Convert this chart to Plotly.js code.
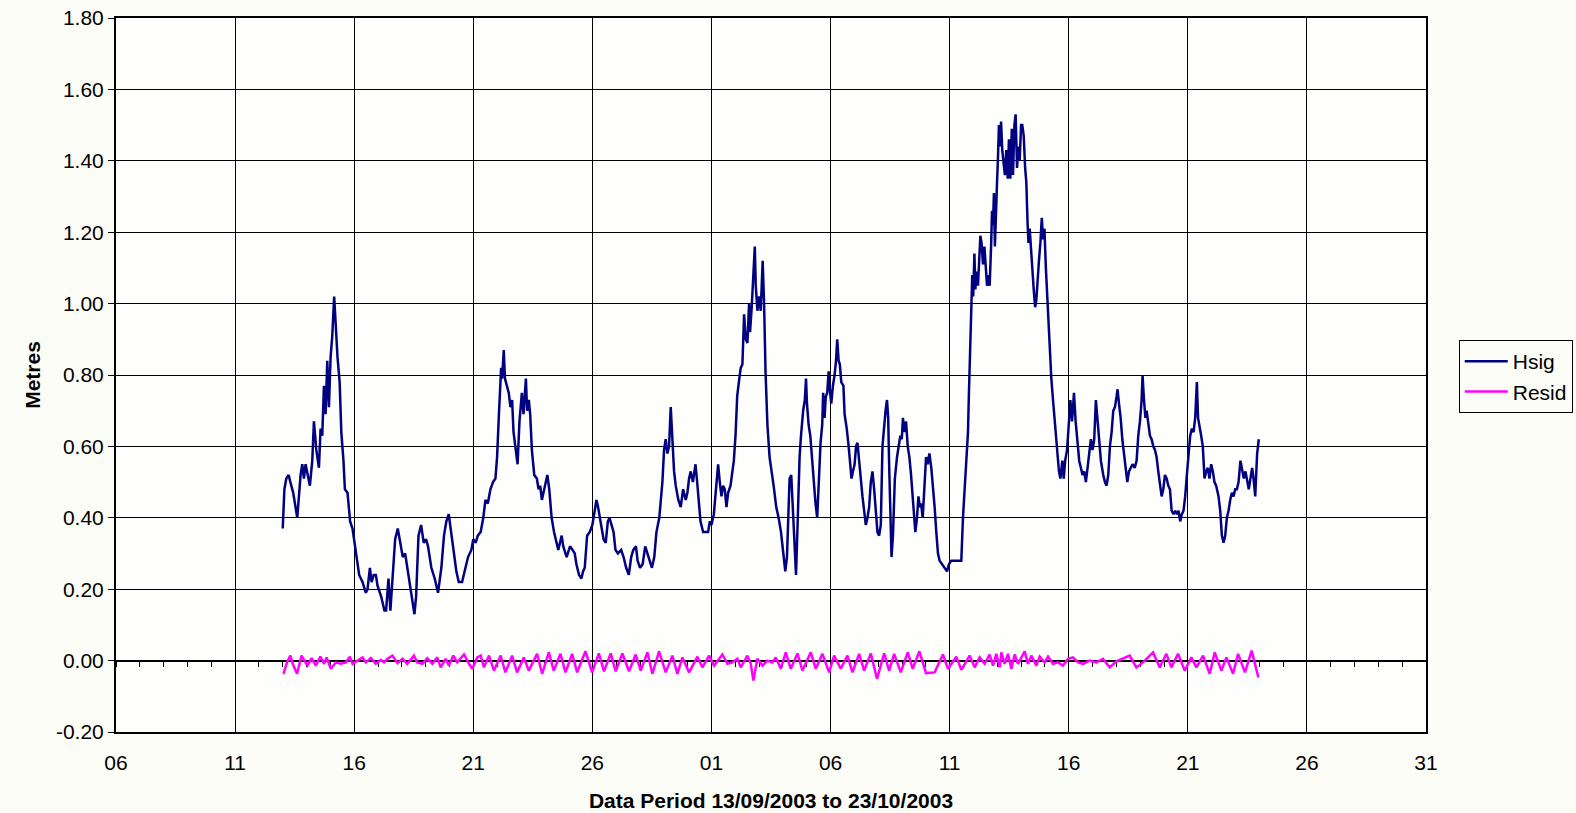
<!DOCTYPE html>
<html>
<head>
<meta charset="utf-8">
<script src="https://cdn.plot.ly/plotly-3.0.1.min.js"></script>
<style>
  html, body { margin: 0; padding: 0; background: #fdfdf8; }
  #chart { width: 1576px; height: 813px; }
</style>
</head>
<body>
<div id="chart"></div>
<script>
// Sample times are given as day-of-September 2003 (31 = 1 October), values in metres.
const hsigDay = [
  13.00,13.07,13.15,13.25,13.32,13.44,13.61,13.75,13.82,13.89,13.96,14.06,14.14,14.24,14.31,14.41,14.52,14.59,14.66,14.73,
  14.80,14.87,14.94,15.01,15.08,15.16,15.23,15.30,15.39,15.46,15.55,15.61,15.72,15.83,15.93,16.00,16.11,16.21,16.35,16.49,
  16.56,16.66,16.73,16.82,16.91,16.98,17.13,17.27,17.34,17.44,17.52,17.62,17.72,17.83,17.94,18.04,18.14,18.25,18.39,18.53,
  18.60,18.70,18.81,18.92,19.02,19.10,19.24,19.38,19.52,19.66,19.77,19.87,19.97,20.08,20.19,20.29,20.39,20.53,20.64,20.78,
  20.92,21.00,21.10,21.19,21.31,21.42,21.51,21.61,21.72,21.83,21.93,22.00,22.07,22.17,22.21,22.28,22.33,22.42,22.49,22.56,
  22.63,22.69,22.76,22.86,22.94,23.04,23.11,23.21,23.26,23.33,23.39,23.46,23.56,23.67,23.74,23.81,23.88,23.94,24.01,24.11,
  24.19,24.29,24.39,24.50,24.57,24.71,24.78,24.92,25.06,25.17,25.26,25.33,25.44,25.54,25.61,25.68,25.78,25.89,26.00,26.10,
  26.17,26.24,26.31,26.38,26.47,26.56,26.65,26.72,26.79,26.89,26.97,27.07,27.21,27.31,27.42,27.53,27.63,27.72,27.83,27.90,
  28.00,28.11,28.22,28.32,28.42,28.50,28.60,28.69,28.81,28.88,28.94,29.01,29.08,29.15,29.22,29.29,29.36,29.43,29.50,29.61,
  29.71,29.81,29.92,29.99,30.06,30.13,30.22,30.33,30.40,30.47,30.54,30.65,30.76,30.86,30.93,31.00,31.10,31.18,31.28,31.35,
  31.42,31.49,31.56,31.63,31.70,31.80,31.87,31.94,32.01,32.08,32.15,32.23,32.30,32.37,32.44,32.51,32.58,32.62,32.69,32.76,
  32.82,32.86,32.93,33.00,33.07,33.15,33.21,33.27,33.35,33.44,33.54,33.61,33.72,33.82,33.92,34.00,34.10,34.17,34.24,34.28,
  34.35,34.42,34.49,34.55,34.62,34.70,34.76,34.85,34.92,34.97,35.01,35.08,35.15,35.23,35.30,35.37,35.44,35.51,35.58,35.65,
  35.69,35.75,35.80,35.86,35.92,35.97,36.03,36.10,36.17,36.23,36.28,36.34,36.39,36.45,36.54,36.59,36.68,36.76,36.82,36.88,
  36.94,37.01,37.07,37.13,37.20,37.27,37.34,37.41,37.48,37.55,37.62,37.69,37.76,37.83,37.90,37.97,38.04,38.11,38.18,38.25,
  38.31,38.37,38.42,38.46,38.51,38.56,38.62,38.70,38.79,38.87,38.93,38.99,39.04,39.10,39.17,39.24,39.31,39.38,39.45,39.52,
  39.56,39.63,39.69,39.75,39.80,39.87,39.94,40.01,40.08,40.15,40.23,40.30,40.37,40.44,40.51,40.58,40.68,40.79,40.89,40.97,
  41.07,41.21,41.35,41.49,41.56,41.63,41.70,41.77,41.81,41.87,41.91,41.95,41.99,42.04,42.08,42.13,42.19,42.23,42.29,42.34,
  42.40,42.46,42.52,42.57,42.62,42.68,42.74,42.78,42.82,42.86,42.90,42.95,42.99,43.03,43.07,43.11,43.16,43.21,43.27,43.32,
  43.38,43.44,43.49,43.55,43.61,43.66,43.72,43.77,43.83,43.89,43.94,44.00,44.05,44.11,44.17,44.22,44.27,44.31,44.36,44.42,
  44.47,44.53,44.59,44.64,44.70,44.75,44.81,44.87,44.92,44.98,45.04,45.09,45.15,45.20,45.27,45.34,45.41,45.48,45.59,45.65,
  45.73,45.79,45.85,45.93,46.00,46.07,46.14,46.22,46.29,46.37,46.44,46.51,46.58,46.65,46.72,46.79,46.86,46.93,47.00,47.07,
  47.14,47.21,47.28,47.35,47.45,47.52,47.59,47.66,47.73,47.80,47.87,47.94,48.01,48.05,48.11,48.18,48.25,48.32,48.39,48.46,
  48.53,48.60,48.68,48.77,48.85,48.92,48.99,49.06,49.10,49.16,49.22,49.27,49.34,49.41,49.48,49.55,49.62,49.69,49.76,49.83,
  49.90,49.97,50.04,50.11,50.18,50.25,50.32,50.40,50.47,50.54,50.61,50.68,50.75,50.82,50.89,50.96,51.03,51.10,51.17,51.24,
  51.31,51.38,51.43,51.49,51.56,51.63,51.70,51.77,51.84,51.91,51.98,52.05,52.12,52.19,52.29,52.36,52.43,52.50,52.57,52.64,
  52.71,52.78,52.85,52.92,52.99,53.06,53.13,53.21,53.28,53.35,53.42,53.49,53.56,53.63,53.70,53.76,53.83,53.91,53.98
];
const hsigM = [
  0.37,0.48,0.51,0.52,0.50,0.47,0.40,0.52,0.55,0.51,0.55,0.51,0.49,0.56,0.67,0.59,0.54,0.65,0.63,0.77,
  0.69,0.84,0.71,0.85,0.91,1.02,0.93,0.85,0.78,0.64,0.56,0.48,0.47,0.39,0.37,0.34,0.28,0.24,0.22,0.19,
  0.20,0.26,0.22,0.24,0.24,0.21,0.18,0.14,0.14,0.23,0.14,0.25,0.34,0.37,0.33,0.29,0.30,0.25,0.20,0.13,
  0.18,0.35,0.38,0.33,0.34,0.32,0.26,0.23,0.19,0.26,0.35,0.39,0.41,0.36,0.30,0.25,0.22,0.22,0.25,0.29,
  0.31,0.34,0.33,0.35,0.36,0.40,0.45,0.44,0.48,0.50,0.51,0.57,0.68,0.82,0.79,0.87,0.79,0.77,0.75,0.71,
  0.73,0.64,0.60,0.55,0.67,0.75,0.69,0.79,0.70,0.73,0.69,0.59,0.52,0.51,0.48,0.49,0.45,0.47,0.49,0.52,
  0.48,0.40,0.36,0.33,0.31,0.35,0.32,0.29,0.32,0.31,0.30,0.27,0.24,0.23,0.25,0.26,0.35,0.36,0.38,0.42,
  0.45,0.43,0.40,0.37,0.34,0.33,0.39,0.40,0.38,0.36,0.31,0.30,0.31,0.29,0.26,0.24,0.29,0.31,0.32,0.28,
  0.26,0.27,0.32,0.30,0.28,0.26,0.29,0.36,0.40,0.45,0.50,0.59,0.62,0.58,0.60,0.71,0.61,0.53,0.49,0.45,
  0.43,0.48,0.45,0.47,0.51,0.53,0.50,0.55,0.50,0.44,0.39,0.36,0.36,0.36,0.39,0.38,0.41,0.47,0.55,0.50,
  0.46,0.49,0.48,0.43,0.47,0.49,0.53,0.56,0.63,0.74,0.78,0.82,0.83,0.97,0.90,0.89,1.00,0.92,0.99,1.11,
  1.16,1.05,0.98,1.02,0.98,1.12,1.00,0.81,0.66,0.57,0.53,0.49,0.43,0.40,0.36,0.31,0.25,0.29,0.46,0.51,
  0.52,0.41,0.29,0.24,0.39,0.57,0.63,0.70,0.73,0.79,0.72,0.66,0.63,0.55,0.48,0.44,0.40,0.50,0.61,0.66,
  0.75,0.68,0.74,0.75,0.81,0.76,0.72,0.77,0.80,0.84,0.90,0.84,0.83,0.78,0.77,0.69,0.65,0.60,0.56,0.51,
  0.53,0.55,0.60,0.61,0.56,0.50,0.46,0.42,0.38,0.40,0.43,0.50,0.53,0.48,0.43,0.36,0.35,0.38,0.60,0.67,
  0.70,0.73,0.68,0.55,0.37,0.29,0.35,0.51,0.57,0.61,0.63,0.62,0.68,0.64,0.67,0.60,0.57,0.52,0.46,0.39,
  0.36,0.40,0.46,0.43,0.44,0.40,0.49,0.57,0.55,0.58,0.54,0.49,0.43,0.36,0.30,0.28,0.27,0.26,0.25,0.27,
  0.28,0.28,0.28,0.28,0.40,0.49,0.59,0.64,0.75,0.87,0.96,1.08,1.02,1.14,1.04,1.09,1.05,1.10,1.19,1.17,
  1.11,1.16,1.08,1.05,1.08,1.05,1.16,1.26,1.22,1.31,1.16,1.31,1.34,1.41,1.50,1.44,1.51,1.43,1.39,1.36,
  1.43,1.35,1.46,1.35,1.49,1.36,1.50,1.53,1.38,1.44,1.40,1.50,1.50,1.47,1.38,1.34,1.23,1.17,1.21,1.16,
  1.10,1.04,0.99,1.01,1.08,1.12,1.17,1.24,1.18,1.21,1.10,1.03,0.97,0.87,0.79,0.73,0.67,0.61,0.53,0.51,
  0.56,0.51,0.56,0.59,0.65,0.73,0.67,0.75,0.67,0.61,0.56,0.54,0.52,0.53,0.50,0.54,0.59,0.62,0.59,0.62,
  0.73,0.68,0.61,0.56,0.52,0.50,0.49,0.52,0.60,0.64,0.70,0.71,0.74,0.76,0.72,0.68,0.62,0.58,0.54,0.50,
  0.53,0.54,0.55,0.54,0.56,0.63,0.67,0.73,0.80,0.73,0.68,0.70,0.66,0.63,0.62,0.60,0.59,0.57,0.53,0.50,
  0.46,0.48,0.52,0.51,0.49,0.48,0.42,0.41,0.42,0.41,0.42,0.39,0.41,0.42,0.46,0.52,0.59,0.63,0.65,0.64,
  0.68,0.78,0.68,0.66,0.63,0.60,0.51,0.53,0.54,0.51,0.55,0.53,0.50,0.49,0.46,0.42,0.35,0.33,0.35,0.40,
  0.42,0.45,0.47,0.46,0.48,0.48,0.50,0.56,0.53,0.51,0.53,0.50,0.48,0.51,0.54,0.51,0.46,0.58,0.62
];

const residDay = [
  13.03,13.18,13.32,13.42,13.60,13.79,13.91,14.04,14.21,14.39,14.58,14.74,14.84,15.02,15.23,15.44,15.65,15.82,15.93,16.14,
  16.35,16.49,16.70,16.91,17.12,17.26,17.40,17.61,17.82,18.03,18.23,18.51,18.65,18.86,19.07,19.28,19.49,19.63,19.84,19.98,
  20.16,20.33,20.61,20.82,20.96,21.17,21.31,21.45,21.66,21.87,22.15,22.35,22.63,22.84,23.12,23.33,23.68,23.89,24.17,24.38,
  24.66,24.87,25.15,25.36,25.71,25.99,26.27,26.49,26.77,26.98,27.26,27.54,27.82,28.03,28.31,28.52,28.80,29.08,29.36,29.57,
  29.78,30.06,30.41,30.62,30.90,31.11,31.46,31.67,31.88,32.09,32.23,32.51,32.65,32.76,32.93,33.14,33.35,33.56,33.70,33.91,
  34.12,34.33,34.61,34.82,35.17,35.38,35.66,35.94,36.15,36.43,36.71,36.92,37.20,37.41,37.69,37.95,38.25,38.46,38.67,38.95,
  39.24,39.45,39.73,40.01,40.37,40.72,40.93,41.28,41.49,41.84,42.05,42.26,42.47,42.68,42.82,42.96,43.10,43.17,43.31,43.45,
  43.59,43.73,43.87,44.15,44.29,44.43,44.64,44.78,44.99,45.13,45.34,45.55,45.76,45.97,46.18,46.39,46.60,46.88,47.16,47.44,
  47.72,48.00,48.28,48.56,48.84,49.12,49.54,49.82,50.10,50.31,50.59,50.87,51.15,51.36,51.64,51.92,52.13,52.41,52.62,52.90,
  53.11,53.40,53.68,53.96
];
const residM = [
  -0.037,-0.005,0.014,-0.009,-0.037,0.014,0.000,-0.014,0.007,-0.014,0.011,-0.009,0.009,-0.023,-0.005,-0.009,-0.005,0.011,-0.009,0.000,
  0.009,-0.005,0.007,-0.009,0.002,-0.005,0.005,0.014,-0.007,0.005,-0.009,0.014,-0.005,-0.009,0.007,-0.009,0.009,-0.019,0.005,-0.014,
  0.014,-0.005,0.017,-0.009,-0.023,0.009,0.014,-0.019,0.014,-0.028,0.014,-0.033,0.014,-0.033,0.009,-0.028,0.019,-0.037,0.023,-0.028,
  0.019,-0.033,0.019,-0.033,0.026,-0.033,0.020,-0.030,0.020,-0.030,0.020,-0.030,0.017,-0.028,0.023,-0.037,0.026,-0.033,0.014,-0.037,
  0.009,-0.033,0.011,-0.019,0.014,-0.014,0.017,-0.009,-0.005,0.005,-0.019,0.014,-0.009,-0.056,0.005,-0.014,0.000,-0.005,0.009,-0.023,
  0.023,-0.023,0.020,-0.028,0.023,-0.023,0.019,-0.033,0.014,-0.023,0.014,-0.033,0.019,-0.028,0.020,-0.051,0.020,-0.028,0.019,-0.033,
  0.023,-0.023,0.026,-0.035,-0.033,0.017,-0.023,0.011,-0.026,0.014,-0.019,0.009,-0.009,0.017,-0.014,0.019,-0.019,0.023,-0.009,0.019,
  -0.023,0.017,-0.009,0.026,-0.009,0.014,-0.014,0.011,-0.005,0.011,-0.009,-0.005,-0.014,0.005,0.009,-0.005,-0.009,0.000,-0.005,0.005,
  -0.019,-0.002,0.005,0.014,-0.019,-0.005,0.023,-0.019,0.019,-0.019,0.019,-0.028,0.009,-0.019,0.014,-0.037,0.023,-0.028,0.009,-0.037,
  0.019,-0.033,0.028,-0.047
];

const seriesNames = ['Hsig', 'Resid'];
const seriesColors = ['#000080', '#ff00ff'];
const xStart = '2003-09-06';
const xEnd = '2003-10-31';
const yTickVals = [-0.2, 0, 0.2, 0.4, 0.6, 0.8, 1.0, 1.2, 1.4, 1.6, 1.8];
const yTickText = ['-0.20', '0.00', '0.20', '0.40', '0.60', '0.80', '1.00', '1.20', '1.40', '1.60', '1.80'];
const xAxisTitle = 'Data Period 13/09/2003 to 23/10/2003';
const yAxisTitle = 'Metres';

// day-of-September number -> 'YYYY-MM-DD HH:MM:SS'
const SEP1 = Date.UTC(2003, 8, 1);
function toStamp(d) {
  return new Date(SEP1 + (d - 1) * 86400000).toISOString().slice(0, 19).replace('T', ' ');
}

const FONT = 'Liberation Sans, Arial, sans-serif';
const BG = '#fdfdf8';

const traces = [
  {
    x: hsigDay.map(toStamp), y: hsigM, name: seriesNames[0],
    type: 'scatter', mode: 'lines',
    line: { color: seriesColors[0], width: 2.5 }
  },
  {
    x: residDay.map(toStamp), y: residM, name: seriesNames[1],
    xaxis: 'x2', type: 'scatter', mode: 'lines',
    line: { color: seriesColors[1], width: 2.5 }
  }
];

const layout = {
  width: 1576, height: 813,
  margin: { l: 116, r: 150, t: 18, b: 81, autoexpand: false },
  paper_bgcolor: BG,
  plot_bgcolor: '#fefefc',
  font: { family: FONT, size: 21, color: '#000' },
  showlegend: true,
  legend: {
    x: 1.025, xanchor: 'left', y: 0.549, yanchor: 'top',
    bgcolor: BG, bordercolor: '#000', borderwidth: 1,
    font: { family: FONT, size: 21, color: '#000' },
    itemwidth: 43, tracegroupgap: 0
  },
  xaxis: {
    type: 'date', range: [xStart, xEnd],
    tick0: xStart, dtick: 5 * 86400000, tickformat: '%d',
    showgrid: true, gridcolor: '#000', gridwidth: 1,
    showline: true, linecolor: '#000', linewidth: 2, mirror: true,
    ticks: 'outside', ticklen: 11, tickcolor: 'rgba(0,0,0,0)',
    tickfont: { family: FONT, size: 21, color: '#000' },
    zeroline: false,
    title: { text: xAxisTitle, standoff: 20, font: { family: FONT, size: 21, color: '#000', weight: 'bold' } }
  },
  // daily ticks along the zero line
  xaxis2: {
    type: 'date', range: [xStart, xEnd], overlaying: 'x', anchor: 'free', position: 0.1,
    tick0: xStart, dtick: 86400000, showticklabels: false,
    showgrid: false, zeroline: false,
    showline: true, linecolor: '#000', linewidth: 1,
    ticks: 'outside', ticklen: 5, tickcolor: '#000', tickwidth: 1,
    layer: 'below traces'
  },
  yaxis: {
    range: [-0.2, 1.8], tickmode: 'array', tickvals: yTickVals, ticktext: yTickText,
    showgrid: true, gridcolor: '#000', gridwidth: 1,
    showline: true, linecolor: '#000', linewidth: 2, mirror: true,
    ticks: 'outside', ticklen: 6, tickcolor: '#000',
    tickfont: { family: FONT, size: 21, color: '#000' },
    zeroline: false,
    title: { text: yAxisTitle, standoff: 10, font: { family: FONT, size: 21, color: '#000', weight: 'bold' } }
  }
};

Plotly.newPlot('chart', traces, layout, { displayModeBar: false, staticPlot: true });
</script>
</body>
</html>
